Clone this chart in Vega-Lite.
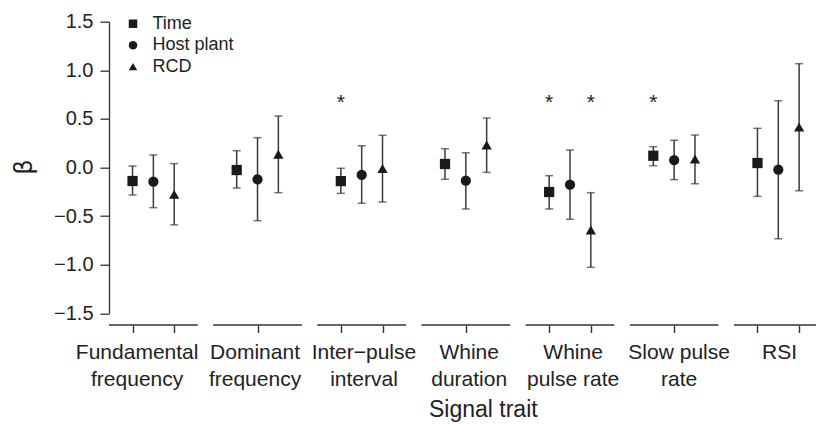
{
  "$schema": "https://vega.github.io/schema/vega-lite/v6.json",
  "width": 707,
  "height": 291.6,
  "autosize": {"type": "none"},
  "padding": {"left": 109, "top": 21.7, "right": 0, "bottom": 111.7},
  "background": "white",
  "view": {"stroke": null},
  "config": {
    "font": "Liberation Sans",
    "axis": {"grid": false, "domainColor": "#333", "tickColor": "#333", "labelColor": "#222", "titleColor": "#222", "domainWidth": 1.3, "tickWidth": 1.3, "titleFontWeight": "normal"},
    "legend": {"orient": "none", "legendX": 15, "legendY": -7, "padding": 0, "symbolSize": 72, "labelFontSize": 18, "labelColor": "#222", "labelOffset": 10.5, "rowPadding": 3.5, "title": null, "symbolFillColor": "#1a1a1a", "symbolStrokeColor": "#1a1a1a", "symbolStrokeWidth": 0}
  },
  "datasets": {
    "est": [
      {"trait": "Fundamental frequency", "var": "Time", "x": -1, "est": -0.139, "lo": -0.283, "hi": 0.015, "sig": false},
      {"trait": "Fundamental frequency", "var": "Host plant", "x": 0, "est": -0.146, "lo": -0.413, "hi": 0.129, "sig": false},
      {"trait": "Fundamental frequency", "var": "RCD", "x": 1, "est": -0.276, "lo": -0.59, "hi": 0.04, "sig": false},
      {"trait": "Dominant frequency", "var": "Time", "x": 4, "est": -0.026, "lo": -0.211, "hi": 0.173, "sig": false},
      {"trait": "Dominant frequency", "var": "Host plant", "x": 5, "est": -0.122, "lo": -0.547, "hi": 0.307, "sig": false},
      {"trait": "Dominant frequency", "var": "RCD", "x": 6, "est": 0.136, "lo": -0.259, "hi": 0.53, "sig": false},
      {"trait": "Inter-pulse interval", "var": "Time", "x": 9, "est": -0.14, "lo": -0.266, "hi": -0.008, "sig": true},
      {"trait": "Inter-pulse interval", "var": "Host plant", "x": 10, "est": -0.077, "lo": -0.369, "hi": 0.224, "sig": false},
      {"trait": "Inter-pulse interval", "var": "RCD", "x": 11, "est": -0.01, "lo": -0.355, "hi": 0.331, "sig": false},
      {"trait": "Whine duration", "var": "Time", "x": 14, "est": 0.036, "lo": -0.121, "hi": 0.193, "sig": false},
      {"trait": "Whine duration", "var": "Host plant", "x": 15, "est": -0.136, "lo": -0.427, "hi": 0.152, "sig": false},
      {"trait": "Whine duration", "var": "RCD", "x": 16, "est": 0.231, "lo": -0.05, "hi": 0.509, "sig": false},
      {"trait": "Whine pulse rate", "var": "Time", "x": 19, "est": -0.252, "lo": -0.427, "hi": -0.084, "sig": true},
      {"trait": "Whine pulse rate", "var": "Host plant", "x": 20, "est": -0.177, "lo": -0.533, "hi": 0.18, "sig": false},
      {"trait": "Whine pulse rate", "var": "RCD", "x": 21, "est": -0.643, "lo": -1.027, "hi": -0.259, "sig": true},
      {"trait": "Slow pulse rate", "var": "Time", "x": 24, "est": 0.121, "lo": 0.019, "hi": 0.214, "sig": true},
      {"trait": "Slow pulse rate", "var": "Host plant", "x": 25, "est": 0.077, "lo": -0.125, "hi": 0.28, "sig": false},
      {"trait": "Slow pulse rate", "var": "RCD", "x": 26, "est": 0.087, "lo": -0.167, "hi": 0.334, "sig": false},
      {"trait": "RSI", "var": "Time", "x": 29, "est": 0.046, "lo": -0.297, "hi": 0.403, "sig": false},
      {"trait": "RSI", "var": "Host plant", "x": 30, "est": -0.023, "lo": -0.733, "hi": 0.687, "sig": false},
      {"trait": "RSI", "var": "RCD", "x": 31, "est": 0.415, "lo": -0.239, "hi": 1.068, "sig": false}
    ],
    "groups": [
      {"label": "Fundamental\nfrequency", "start": -2.13, "end": 2.13, "lx": -0.78},
      {"label": "Dominant\nfrequency", "start": 2.87, "end": 7.13, "lx": 4.88},
      {"label": "Inter−pulse\ninterval", "start": 7.87, "end": 12.13, "lx": 10.11},
      {"label": "Whine\nduration", "start": 12.87, "end": 17.13, "lx": 15.16},
      {"label": "Whine\npulse rate", "start": 17.87, "end": 22.13, "lx": 20.15},
      {"label": "Slow pulse\nrate", "start": 22.87, "end": 27.13, "lx": 25.24},
      {"label": "RSI", "start": 27.87, "end": 32.13, "lx": 30.06}
    ]
  },
  "encoding": {
    "x": {"type": "quantitative", "scale": {"domain": [-2.13, 31.81], "nice": false, "zero": false}}
  },
  "layer": [
    {
      "mark": {"type": "rule", "strokeDash": [4.5, 4], "color": "#333", "strokeWidth": 1.2},
      "encoding": {"y": {"datum": 0, "type": "quantitative"}}
    },
    {
      "data": {"name": "groups"},
      "mark": {"type": "rule", "color": "#333", "strokeWidth": 1.4},
      "encoding": {
        "x": {"field": "start", "type": "quantitative", "scale": {"domain": [-2.13, 31.81], "nice": false, "zero": false},
              "axis": {"values": [-1,0,1,4,5,6,9,10,11,14,15,16,19,20,21,24,25,26,29,30,31], "labels": false, "domain": false, "tickSize": 7.5, "tickWidth": 1.4, "offset": 11.7,
                       "title": "Signal trait", "titleFontSize": 23, "titleX": 373.8, "titleY": 91.5, "titleBaseline": "alphabetic", "titleAlign": "center"}},
        "x2": {"field": "end"},
        "y": {"datum": -1.62, "type": "quantitative"}
      }
    },
    {
      "data": {"name": "groups"},
      "mark": {"type": "text", "fontSize": 21, "lineHeight": 26.5, "baseline": "alphabetic", "align": "center", "color": "#222", "lineBreak": "\n"},
      "encoding": {
        "x": {"field": "lx", "type": "quantitative"},
        "y": {"datum": -1.975, "type": "quantitative"},
        "text": {"field": "label"}
      }
    },
    {
      "data": {"name": "est"},
      "mark": {"type": "rule", "color": "#3a3a3a", "strokeWidth": 1.5},
      "encoding": {
        "x": {"field": "x", "type": "quantitative"},
        "y": {"field": "lo", "type": "quantitative"},
        "y2": {"field": "hi"}
      }
    },
    {
      "data": {"name": "est"},
      "mark": {"type": "tick", "orient": "horizontal", "size": 8, "thickness": 1.5, "color": "#3a3a3a"},
      "encoding": {
        "x": {"field": "x", "type": "quantitative"},
        "y": {"field": "lo", "type": "quantitative"}
      }
    },
    {
      "data": {"name": "est"},
      "mark": {"type": "tick", "orient": "horizontal", "size": 8, "thickness": 1.5, "color": "#3a3a3a"},
      "encoding": {
        "x": {"field": "x", "type": "quantitative"},
        "y": {"field": "hi", "type": "quantitative"}
      }
    },
    {
      "data": {"name": "est"},
      "mark": {"type": "point", "filled": true, "opacity": 1, "size": 105, "color": "#1a1a1a"},
      "encoding": {
        "x": {"field": "x", "type": "quantitative"},
        "y": {"field": "est", "type": "quantitative", "title": "β",
              "scale": {"domain": [-1.5, 1.5], "nice": false, "zero": false},
              "axis": {"values": [-1.5, -1, -0.5, 0, 0.5, 1, 1.5], "format": ".1f", "labelFontSize": 20, "tickSize": 9, "labelPadding": 7,
                       "titleFontSize": 24, "titleX": -85, "titleY": 145, "titleAngle": -90, "titleBaseline": "middle", "titleAlign": "center", "titleFont": "DejaVu Sans"}},
        "shape": {"field": "var", "type": "nominal",
                  "scale": {"domain": ["Time", "Host plant", "RCD"], "range": ["square", "circle", "triangle-up"]}}
      }
    },
    {
      "data": {"name": "est"},
      "transform": [{"filter": "datum.sig"}],
      "mark": {"type": "text", "fontSize": 21, "baseline": "alphabetic", "align": "center", "color": "#222"},
      "encoding": {
        "x": {"field": "x", "type": "quantitative"},
        "y": {"datum": 0.6, "type": "quantitative"},
        "text": {"value": "*"}
      }
    }
  ]
}
